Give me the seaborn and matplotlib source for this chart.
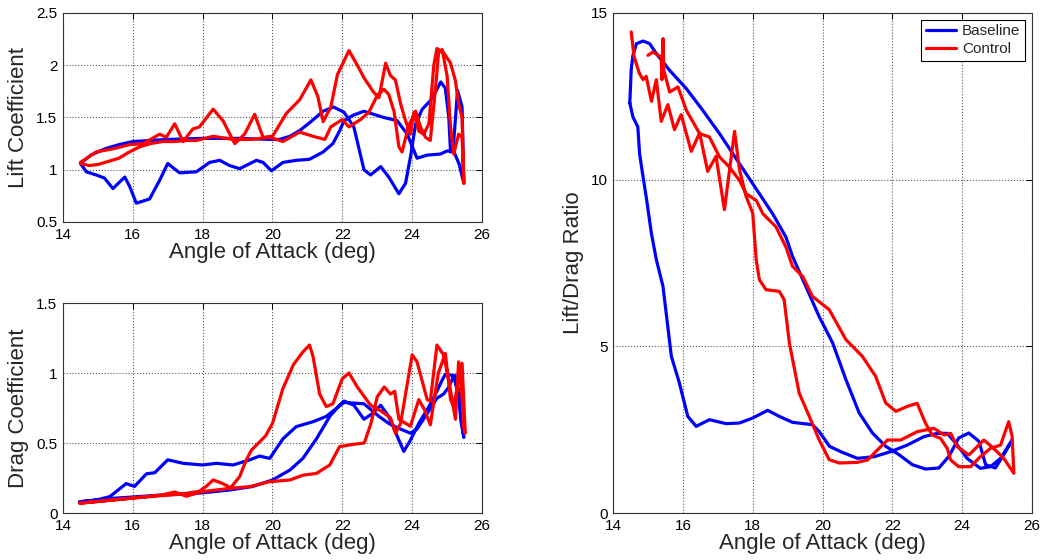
import numpy as np
import pandas as pd
import matplotlib
matplotlib.use("Agg")
import matplotlib.pyplot as plt
from matplotlib.ticker import FuncFormatter
import seaborn as sns

# Data (pitch-up stroke, then pitch-down stroke)

# Lift coefficient, baseline
cl_base_up_a = [14.5, 14.8, 15.2, 15.6, 16.0, 16.5, 17.0, 18.0, 19.0, 20.0, 20.2, 20.5, 20.8, 21.1, 21.45,
                21.75, 22.05, 22.33, 22.62, 22.81, 23.1, 23.33, 23.62, 23.81, 23.95, 24.1, 24.29, 24.52,
                24.71, 24.82, 24.95, 25.05, 25.1, 25.18, 25.3, 25.43, 25.48]
cl_base_up = [1.06, 1.14, 1.20, 1.24, 1.27, 1.28, 1.29, 1.30, 1.30, 1.29, 1.29, 1.32, 1.38, 1.46, 1.56,
              1.60, 1.55, 1.41, 1.00, 0.95, 1.03, 0.93, 0.77, 0.87, 1.12, 1.44, 1.58, 1.66,
              1.77, 1.84, 1.78, 1.50, 1.17, 1.22, 1.76, 1.60, 0.87]
cl_base_dn_a = [25.35, 25.2, 25.0, 24.81, 24.43, 24.14, 23.86, 23.57, 23.19, 22.9, 22.62, 22.3, 22.05,
                21.92, 21.73, 21.45, 21.06, 20.68, 20.3, 19.97, 19.73, 19.54, 19.06, 18.77, 18.49, 18.2,
                17.82, 17.34, 17.0, 16.77, 16.48, 16.1, 15.91, 15.77, 15.43, 15.19, 14.95, 14.67, 14.5]
cl_base_dn = [1.05, 1.17, 1.18, 1.15, 1.14, 1.11, 1.34, 1.47, 1.50, 1.53, 1.56, 1.52, 1.47,
              1.37, 1.25, 1.17, 1.10, 1.09, 1.07, 0.99, 1.07, 1.09, 1.01, 1.04, 1.09, 1.07,
              0.98, 0.97, 1.06, 0.90, 0.72, 0.68, 0.84, 0.93, 0.82, 0.92, 0.95, 0.98, 1.06]

# Lift coefficient, control
cl_ctrl_up_a = [14.5, 14.75, 15.0, 15.3, 15.6, 15.9, 16.2, 16.5, 16.86, 17.2, 17.5, 17.82, 18.3, 18.87,
                19.35, 19.92, 20.3, 20.78, 21.16, 21.5, 21.67, 22.0, 22.19, 22.52, 22.76, 23.0, 23.19,
                23.33, 23.48, 23.62, 23.71, 23.9, 24.1, 24.24, 24.38, 24.52, 24.67, 24.76, 24.86, 25.0,
                25.1, 25.19, 25.33, 25.43, 25.48]
cl_ctrl_up = [1.06, 1.04, 1.05, 1.08, 1.11, 1.17, 1.22, 1.25, 1.27, 1.27, 1.28, 1.28, 1.32, 1.29,
              1.29, 1.31, 1.27, 1.36, 1.32, 1.29, 1.41, 1.48, 1.41, 1.48, 1.55, 1.71, 1.77,
              1.72, 1.56, 1.22, 1.17, 1.42, 1.56, 1.41, 1.31, 1.28, 1.78, 2.13, 2.15, 1.90,
              1.41, 1.15, 1.34, 1.31, 0.87]
cl_ctrl_dn_a = [25.43, 25.33, 25.24, 25.1, 24.9, 24.71, 24.62, 24.48, 24.33, 24.19, 24.05, 23.95, 23.81,
                23.67, 23.52, 23.38, 23.24, 23.05, 22.9, 22.62, 22.43, 22.19, 21.86, 21.67, 21.45, 21.3,
                21.1, 20.78, 20.4, 20.0, 19.73, 19.49, 19.2, 18.92, 18.58, 18.3, 17.91, 17.72, 17.44,
                17.2, 16.96, 16.77, 16.29, 15.91, 15.43, 14.95, 14.5]
cl_ctrl_dn = [1.50, 1.63, 1.85, 2.02, 2.12, 2.16, 2.00, 1.44, 1.34, 1.37, 1.55, 1.34, 1.47,
              1.63, 1.86, 1.90, 2.02, 1.69, 1.74, 1.88, 2.00, 2.14, 1.91, 1.60, 1.46, 1.70,
              1.86, 1.67, 1.54, 1.32, 1.31, 1.53, 1.34, 1.25, 1.47, 1.58, 1.41, 1.39, 1.27,
              1.44, 1.31, 1.34, 1.25, 1.24, 1.20, 1.17, 1.07]

# Drag coefficient, baseline
cd_base_up_a = [14.48, 15.43, 16.86, 17.82, 18.77, 19.44, 20.0, 20.5, 20.87, 21.26, 21.64, 21.92, 22.05,
                22.33, 22.62, 22.86, 23.1, 23.33, 23.57, 23.76, 23.95, 24.19, 24.48, 24.71, 24.86, 24.95,
                25.24, 25.33, 25.43, 25.48]
cd_base_up = [0.08, 0.105, 0.129, 0.14, 0.164, 0.19, 0.236, 0.307, 0.39, 0.53, 0.69, 0.77, 0.80,
              0.77, 0.67, 0.71, 0.77, 0.69, 0.55, 0.44, 0.52, 0.64, 0.76, 0.87, 0.95, 0.99,
              0.98, 0.88, 0.64, 0.54]
cd_base_dn_a = [25.48, 25.4, 25.33, 25.19, 25.05, 24.9, 24.71, 24.43, 24.14, 23.95, 23.57, 23.33, 23.05,
                22.62, 22.05, 21.54, 21.16, 20.68, 20.3, 19.92, 19.63, 19.35, 18.87, 18.39, 18.0, 17.44,
                17.0, 16.63, 16.39, 16.05, 15.81, 15.34, 14.95, 14.48]
cd_base_dn = [0.54, 0.65, 0.83, 0.98, 0.90, 0.85, 0.82, 0.71, 0.60, 0.57, 0.61, 0.64, 0.69,
              0.78, 0.79, 0.69, 0.652, 0.617, 0.53, 0.39, 0.407, 0.38, 0.343, 0.355, 0.343, 0.355,
              0.38, 0.288, 0.28, 0.19, 0.21, 0.117, 0.093, 0.08]

# Drag coefficient, control
cd_ctrl_up_a = [14.48, 15.43, 16.39, 16.86, 17.2, 17.53, 18.0, 18.77, 19.35, 19.92, 20.5, 20.87, 21.26,
                21.64, 21.92, 22.3, 22.63, 22.82, 23.0, 23.2, 23.38, 23.5, 23.62, 23.95, 24.19, 24.35,
                24.52, 24.75, 24.95, 25.1, 25.19, 25.33, 25.43, 25.52]
cd_ctrl_up = [0.07, 0.093, 0.117, 0.13, 0.15, 0.12, 0.153, 0.176, 0.188, 0.224, 0.236, 0.27, 0.283,
              0.343, 0.474, 0.49, 0.50, 0.64, 0.83, 0.90, 0.85, 0.87, 0.67, 0.62, 0.81, 0.74,
              0.63, 1.0, 1.14, 0.81, 0.76, 0.95, 1.07, 0.57]
cd_ctrl_dn_a = [25.48, 25.4, 25.33, 25.24, 25.05, 24.9, 24.71, 24.52, 24.43, 24.14, 24.0, 23.67, 23.52,
                23.38, 23.1, 22.81, 22.43, 22.19, 22.0, 21.73, 21.54, 21.35, 21.16, 21.06, 20.87, 20.6,
                20.3, 20.0, 19.8, 19.6, 19.4, 19.25, 19.06, 18.8, 18.58, 18.3, 18.1, 17.9, 17.4, 16.6,
                15.5, 14.48]
cd_ctrl_dn = [0.60, 0.95, 1.08, 0.67, 0.95, 1.13, 1.20, 0.80, 0.81, 1.08, 1.13, 0.64, 0.57,
              0.68, 0.73, 0.77, 0.90, 1.00, 0.96, 0.78, 0.76, 0.85, 1.12, 1.20, 1.15, 1.06,
              0.89, 0.64, 0.55, 0.50, 0.45, 0.38, 0.26, 0.18, 0.21, 0.236, 0.19, 0.155, 0.135, 0.12,
              0.095, 0.07]

# Lift/drag ratio, baseline
ld_base_up_a = [14.48, 14.52, 14.57, 14.67, 14.86, 15.05, 15.24, 15.62, 16.1, 16.57, 17.05, 17.43, 17.81,
                18.19, 18.57, 18.95, 19.14, 19.52, 19.9, 20.29, 20.67, 21.05, 21.43, 21.81, 22.19, 22.57,
                22.95, 23.33, 23.62, 23.9, 24.19, 24.48, 24.67, 24.95, 25.19, 25.43]
ld_base_up = [12.3, 13.3, 13.73, 14.08, 14.16, 14.08, 13.78, 13.28, 12.73, 12.08, 11.38, 10.78, 10.18,
              9.58, 8.98, 8.28, 7.7, 6.8, 5.9, 5.1, 4.0, 3.0, 2.4, 2.0, 1.75, 1.45,
              1.32, 1.35, 1.7, 2.25, 2.4, 2.15, 1.45, 1.35, 1.75, 2.19]
ld_base_dn_a = [25.43, 25.1, 24.81, 24.52, 24.14, 23.86, 23.57, 23.29, 22.9, 22.43, 21.95, 21.48, 21.0,
                20.52, 20.2, 19.9, 19.71, 19.14, 18.76, 18.43, 18.0, 17.62, 17.24, 16.76, 16.38, 16.14,
                15.9, 15.67, 15.43, 15.24, 15.1, 14.95, 14.86, 14.76, 14.71, 14.57, 14.48]
ld_base_dn = [2.19, 1.64, 1.39, 1.34, 1.64, 2.04, 2.39, 2.39, 2.29, 2.04, 1.84, 1.69, 1.64,
              1.84, 2.0, 2.45, 2.65, 2.72, 2.9, 3.08, 2.85, 2.7, 2.68, 2.8, 2.6, 2.9,
              3.9, 4.7, 6.8, 7.6, 8.38, 9.48, 10.08, 10.78, 11.58, 11.88, 12.3]

# Lift/drag ratio, control
ld_ctrl_up_a = [14.52, 14.6, 14.75, 14.86, 14.95, 15.1, 15.24, 15.38, 15.57, 15.76, 15.95, 16.24, 16.48,
                16.71, 16.95, 17.19, 17.35, 17.48, 17.62, 17.81, 18.0, 18.1, 18.19, 18.38, 18.76, 18.9,
                19.05, 19.33, 19.62, 19.9, 20.19, 20.48, 21.0, 21.29, 21.57, 21.86, 22.24, 22.71, 23.19,
                23.48, 23.67, 23.86, 24.19, 24.62, 24.9, 25.19, 25.48]
ld_ctrl_up = [14.43, 13.7, 13.2, 13.0, 13.1, 12.35, 13.0, 11.75, 12.25, 11.5, 11.95, 10.85, 11.4,
              10.25, 10.7, 9.1, 10.4, 11.45, 10.3, 9.5, 9.0, 7.6, 7.0, 6.7, 6.65, 6.4,
              5.1, 3.6, 2.9, 2.2, 1.6, 1.5, 1.52, 1.59, 1.89, 2.19, 2.19, 2.44, 2.54,
              2.34, 2.39, 1.99, 1.74, 2.19, 1.94, 1.64, 1.19]
ld_ctrl_dn_a = [25.48, 25.43, 25.33, 25.1, 24.81, 24.52, 24.24, 23.9, 23.67, 23.57, 23.38, 23.14, 22.95,
                22.71, 22.43, 22.1, 21.81, 21.52, 21.14, 20.67, 20.19, 19.71, 19.43, 19.14, 18.95, 18.67,
                18.29, 18.1, 17.81, 17.62, 17.33, 17.05, 16.76, 16.48, 16.1, 15.86, 15.62, 15.45, 15.43,
                15.40, 15.38, 15.14, 15.0]
ld_ctrl_dn = [1.19, 2.3, 2.74, 2.04, 1.94, 1.69, 1.39, 1.39, 1.59, 1.94, 2.24, 2.34, 2.69,
              3.29, 3.2, 3.05, 3.3, 4.1, 4.7, 5.2, 6.1, 6.5, 7.1, 7.4, 7.98, 8.58,
              8.98, 9.38, 9.58, 9.98, 10.38, 10.68, 11.28, 11.38, 12.08, 12.78, 12.63, 13.3, 14.23,
              13.0, 13.68, 13.83, 13.73]

cases = ["Baseline", "Control"]
palette = {"Baseline": "#0000ff", "Control": "#ff0000"}


def loop_frame(base_up_a, base_up, base_dn_a, base_dn, ctrl_up_a, ctrl_up, ctrl_dn_a, ctrl_dn):
    parts = []
    for case, a, v in [("Baseline", base_up_a + base_dn_a, base_up + base_dn),
                       ("Control", ctrl_up_a + ctrl_dn_a, ctrl_up + ctrl_dn)]:
        parts.append(pd.DataFrame({"alpha": a, "value": v, "case": case}))
    return pd.concat(parts, ignore_index=True)


df_cl = loop_frame(cl_base_up_a, cl_base_up, cl_base_dn_a, cl_base_dn,
                   cl_ctrl_up_a, cl_ctrl_up, cl_ctrl_dn_a, cl_ctrl_dn)
df_cd = loop_frame(cd_base_up_a, cd_base_up, cd_base_dn_a, cd_base_dn,
                   cd_ctrl_up_a, cd_ctrl_up, cd_ctrl_dn_a, cd_ctrl_dn)
df_ld = loop_frame(ld_base_up_a, ld_base_up, ld_base_dn_a, ld_base_dn,
                   ld_ctrl_up_a, ld_ctrl_up, ld_ctrl_dn_a, ld_ctrl_dn)

sns.set_style("white")
plt.rcParams["font.family"] = ["Liberation Sans", "DejaVu Sans"]

fig = plt.figure(figsize=(10.41, 5.6), dpi=100)
ax_cl = fig.add_axes([0.0605, 0.6036, 0.4025, 0.3732])
ax_cd = fig.add_axes([0.0605, 0.0839, 0.4025, 0.3750])
ax_ld = fig.add_axes([0.5889, 0.0839, 0.4025, 0.8929])

fmt = FuncFormatter(lambda v, p: "%g" % v)

setups = [
    (ax_cl, df_cl, "Lift Coefficient", (0.5, 2.5), [0.5, 1, 1.5, 2, 2.5]),
    (ax_cd, df_cd, "Drag Coefficient", (0, 1.5), [0, 0.5, 1, 1.5]),
    (ax_ld, df_ld, "Lift/Drag Ratio", (0, 15), [0, 5, 10, 15]),
]

for ax, df, ylabel, ylim, yticks in setups:
    sns.lineplot(data=df, x="alpha", y="value", hue="case", hue_order=cases,
                 palette=palette, estimator=None, sort=False, lw=2.3,
                 solid_joinstyle="round", solid_capstyle="round",
                 legend=(ax is ax_ld), ax=ax)
    ax.set_xlim(14, 26)
    ax.set_ylim(*ylim)
    ax.set_xticks([14, 16, 18, 20, 22, 24, 26])
    ax.set_yticks(yticks)
    ax.yaxis.set_major_formatter(fmt)
    ax.grid(True, linestyle=":", color="0.35", lw=0.8)
    ax.tick_params(direction="in", top=True, right=True, length=4, width=0.7,
                   labelsize=11, colors="black")
    ax.tick_params(axis="x", pad=4)
    ax.tick_params(axis="y", pad=4)
    for s in ax.spines.values():
        s.set_color("0.2")
        s.set_linewidth(0.8)
    ax.set_xlabel("Angle of Attack (deg)", fontsize=16, labelpad=0)
    ax.set_ylabel(ylabel, fontsize=16, labelpad=5)

leg = ax_ld.legend(loc="upper right", fontsize=11, fancybox=False, edgecolor="black",
                   framealpha=1, handlelength=2.0, handletextpad=0.4, borderaxespad=0.45,
                   borderpad=0.3, labelspacing=0.25)
leg.get_frame().set_linewidth(0.8)

fig.savefig("out.png", dpi=100)
